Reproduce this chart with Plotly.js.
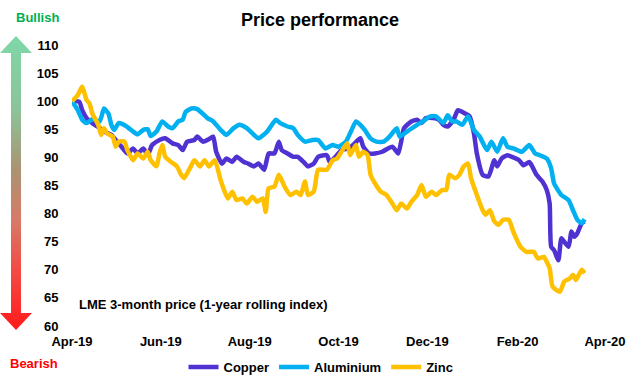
<!DOCTYPE html>
<html>
<head>
<meta charset="utf-8">
<script src="https://cdn.plot.ly/plotly-3.0.1.min.js"></script>
<style>html,body{margin:0;padding:0;background:#fff;}#chart{width:640px;height:386px;}</style>
</head>
<body>
<div id="chart"></div>
<script>
// ---- data (LME 3-month price, 1-year rolling index) ----
const seriesNames = ['Copper', 'Aluminium', 'Zinc'];

const copperDates = [
  '2019-04-01','2019-04-06','2019-04-08','2019-04-11','2019-04-15','2019-04-20','2019-04-23','2019-04-28',
  '2019-05-01','2019-05-05','2019-05-09','2019-05-13','2019-05-16','2019-05-20','2019-05-23','2019-05-26','2019-05-31',
  '2019-06-04','2019-06-09','2019-06-13','2019-06-16','2019-06-19','2019-06-24','2019-06-26','2019-06-30',
  '2019-07-05','2019-07-07','2019-07-09','2019-07-13','2019-07-16','2019-07-20','2019-07-23','2019-07-28','2019-07-31',
  '2019-08-04','2019-08-07','2019-08-11','2019-08-14','2019-08-18','2019-08-21','2019-08-23','2019-08-27','2019-08-31',
  '2019-09-03','2019-09-07','2019-09-10','2019-09-14','2019-09-17','2019-09-23','2019-09-25','2019-09-29',
  '2019-10-03','2019-10-08','2019-10-11','2019-10-16','2019-10-18','2019-10-22','2019-10-26','2019-10-31',
  '2019-11-04','2019-11-07','2019-11-11','2019-11-13','2019-11-15','2019-11-20','2019-11-24','2019-11-27','2019-11-30',
  '2019-12-05','2019-12-09','2019-12-12','2019-12-15','2019-12-19','2019-12-22','2019-12-27','2019-12-30',
  '2020-01-02','2020-01-04','2020-01-08','2020-01-12','2020-01-16','2020-01-18','2020-01-21','2020-01-25','2020-01-28',
  '2020-02-02','2020-02-05','2020-02-09','2020-02-11','2020-02-14','2020-02-18','2020-02-21','2020-02-23','2020-02-24','2020-02-26','2020-02-29',
  '2020-03-02','2020-03-04','2020-03-07','2020-03-09','2020-03-11','2020-03-13','2020-03-16','2020-03-18'
];
const copperValues = [
  100,99.9,98.4,97.0,96.1,95.2,94.6,94.0,
  93.1,91.9,90.7,91.6,90.7,91.6,90.4,92.2,93.1,
  93.4,92.5,92.2,91.3,92.8,93.1,93.7,92.8,
  93.4,93.7,91.0,88.9,89.8,89.2,90.1,89.2,88.9,
  88.4,88.9,87.8,90.7,90.7,92.8,91.3,90.7,90.1,
  90.1,89.2,88.4,88.9,90.1,90.4,89.2,90.1,
  91.3,91.6,92.2,93.4,91.9,90.7,90.7,91.0,
  91.6,91.9,90.7,92.8,95.2,96.4,96.7,96.1,97.0,
  97.0,96.7,95.8,95.5,96.7,98.4,97.8,97.3,
  94.3,90.7,86.9,86.6,89.5,88.4,89.8,90.4,90.1,
  89.5,88.6,89.2,88.4,86.9,85.7,84.2,81.8,74.1,73.5,71.7,
  75.6,75.0,74.1,76.8,75.9,76.5,78.3,78.6
];

const aluminiumDates = [
  '2019-04-01','2019-04-05','2019-04-08','2019-04-11','2019-04-15','2019-04-20','2019-04-23','2019-04-26','2019-04-28','2019-04-30',
  '2019-05-03','2019-05-08','2019-05-13','2019-05-16','2019-05-20','2019-05-23','2019-05-25','2019-05-29',
  '2019-06-02','2019-06-06','2019-06-09','2019-06-13','2019-06-16','2019-06-18','2019-06-22','2019-06-26',
  '2019-07-03','2019-07-07','2019-07-12','2019-07-16','2019-07-21','2019-07-25','2019-07-30',
  '2019-08-04','2019-08-07','2019-08-13','2019-08-19','2019-08-22','2019-08-27','2019-08-31',
  '2019-09-03','2019-09-08','2019-09-13','2019-09-17','2019-09-22','2019-09-27',
  '2019-10-01','2019-10-06','2019-10-09','2019-10-13','2019-10-16','2019-10-19','2019-10-23','2019-10-27',
  '2019-11-01','2019-11-05','2019-11-10','2019-11-12','2019-11-17','2019-11-24','2019-11-28',
  '2019-12-03','2019-12-07','2019-12-12','2019-12-15','2019-12-18','2019-12-21','2019-12-25','2019-12-29',
  '2020-01-02','2020-01-06','2020-01-11','2020-01-14','2020-01-18','2020-01-22','2020-01-25','2020-01-29',
  '2020-02-04','2020-02-09','2020-02-13','2020-02-16','2020-02-21','2020-02-24','2020-02-26',
  '2020-03-02','2020-03-07','2020-03-10','2020-03-13','2020-03-16','2020-03-18'
];
const aluminiumValues = [
  100,98.4,96.7,96.1,96.8,96.4,98.7,97.8,95.8,94.9,
  96.1,95.6,94.6,94.1,94.9,95.0,93.8,94.6,
  96.4,95.5,95.2,96.4,96.7,98.1,98.7,98.6,
  97.0,96.4,94.9,94.0,95.2,95.8,95.2,
  94.0,93.4,94.6,96.7,96.1,95.5,95.2,
  94.0,92.8,93.1,93.1,91.6,92.2,
  91.9,92.8,94.3,96.4,95.8,94.9,93.4,92.8,
  92.8,93.7,95.2,93.7,94.6,95.8,96.4,
  97.3,97.3,96.1,97.5,96.4,96.4,95.8,97.3,
  94.9,93.7,91.3,92.8,91.0,93.4,91.9,91.6,
  91.0,92.2,90.7,90.4,89.8,88.1,85.4,
  83.3,82.4,80.6,78.9,78.3,79.0
];

const zincDates = [
  '2019-04-01','2019-04-05','2019-04-08','2019-04-11','2019-04-13','2019-04-15','2019-04-19','2019-04-21','2019-04-23','2019-04-25','2019-04-29',
  '2019-05-01','2019-05-03','2019-05-07','2019-05-09','2019-05-13','2019-05-16','2019-05-20','2019-05-23','2019-05-25','2019-05-29','2019-05-31',
  '2019-06-02','2019-06-04','2019-06-08','2019-06-12','2019-06-15','2019-06-17','2019-06-21','2019-06-24','2019-06-28',
  '2019-07-01','2019-07-04','2019-07-08','2019-07-12','2019-07-14','2019-07-17','2019-07-20','2019-07-23','2019-07-27','2019-07-30',
  '2019-08-03','2019-08-06','2019-08-10','2019-08-12','2019-08-14','2019-08-18','2019-08-21','2019-08-25','2019-08-29',
  '2019-09-02','2019-09-05','2019-09-08','2019-09-10','2019-09-14','2019-09-17','2019-09-23','2019-09-27','2019-09-30',
  '2019-10-03','2019-10-07','2019-10-09','2019-10-13','2019-10-15','2019-10-18','2019-10-21','2019-10-23','2019-10-26','2019-10-30',
  '2019-11-03','2019-11-07','2019-11-10','2019-11-13','2019-11-17','2019-11-20','2019-11-24','2019-11-27','2019-11-30',
  '2019-12-04','2019-12-07','2019-12-11','2019-12-14','2019-12-16','2019-12-20','2019-12-23','2019-12-26','2019-12-29','2019-12-31',
  '2020-01-04','2020-01-08','2020-01-10','2020-01-13','2020-01-16','2020-01-19','2020-01-22','2020-01-26','2020-01-29',
  '2020-02-03','2020-02-07','2020-02-12','2020-02-15','2020-02-19','2020-02-21','2020-02-23','2020-02-25',
  '2020-03-01','2020-03-04','2020-03-08','2020-03-10','2020-03-12','2020-03-16','2020-03-18'
];
const zincValues = [
  100,101.1,102.6,100.2,99.6,97.8,95.8,94.0,95.2,94.3,93.7,
  91.9,92.8,92.8,91.3,89.5,90.7,89.8,91.0,89.5,88.4,90.7,
  92.2,90.1,89.2,88.4,86.9,86.3,88.1,89.5,88.4,
  89.5,88.4,89.5,86.0,84.5,82.7,83.9,82.4,82.7,81.8,
  83.0,82.1,82.7,80.3,84.5,84.8,86.9,84.8,83.3,
  83.9,83.3,85.7,83.3,83.9,87.8,87.8,89.5,89.8,
  91.0,92.5,90.4,92.2,90.1,91.0,90.4,86.9,85.4,83.9,
  83.3,81.8,80.6,81.8,80.9,82.1,83.3,85.1,83.0,
  83.9,83.3,84.2,84.2,86.9,86.3,86.9,88.4,88.9,86.3,
  83.3,80.6,79.8,80.6,78.6,78.0,78.9,78.9,76.8,
  74.1,73.2,73.2,72.0,72.3,71.4,70.3,67.0,
  66.1,67.9,68.5,69.1,68.2,70.0,69.4
];

const yTickValues = [60, 65, 70, 75, 80, 85, 90, 95, 100, 105, 110];
const xTickValues = ['2019-04-01','2019-06-01','2019-08-01','2019-10-01','2019-12-01','2020-02-01','2020-04-01'];
const xTickLabels = ['Apr-19','Jun-19','Aug-19','Oct-19','Dec-19','Feb-20','Apr-20'];

// ---- styling ----
const FONT = 'Liberation Sans, Arial, sans-serif';
const colors = {Copper: '#5031d1', Aluminium: '#00b0f0', Zinc: '#ffc000'};

const arrowSvg =
  '<svg xmlns="http://www.w3.org/2000/svg" width="32" height="294" viewBox="0 0 32 294">' +
  '<defs><linearGradient id="g" x1="0" y1="0" x2="0" y2="1">' +
  '<stop offset="0" stop-color="#7ed8a8"/>' +
  '<stop offset="0.25" stop-color="#8cc39a"/>' +
  '<stop offset="0.45" stop-color="#a99472"/>' +
  '<stop offset="0.62" stop-color="#d57c68"/>' +
  '<stop offset="0.8" stop-color="#f34a44"/>' +
  '<stop offset="1" stop-color="#ff1a1a"/>' +
  '</linearGradient></defs>' +
  '<polygon fill="url(#g)" points="16,0 32,17 21,17 21,277 32,277 16,294 0,277 11,277 11,17 0,17"/>' +
  '</svg>';
const arrowUri = 'data:image/svg+xml;charset=utf-8,' + encodeURIComponent(arrowSvg);

const makeTrace = (name, x, y) => ({
  type: 'scatter', mode: 'lines', name: name, x: x, y: y,
  line: {color: colors[name], width: 4.5, shape: 'spline', smoothing: 0.5},
  hoverinfo: 'skip'
});

const traces = [
  makeTrace(seriesNames[0], copperDates, copperValues),
  makeTrace(seriesNames[1], aluminiumDates, aluminiumValues),
  makeTrace(seriesNames[2], zincDates, zincValues)
];

// plot area in pixels: left 72, right 605, top 45, bottom 326
const PW = 533, PH = 281;
const px = (x) => (x - 72) / PW;
const py = (y) => (326 - y) / PH;

const layout = {
  width: 640, height: 386,
  margin: {l: 72, r: 35, t: 45, b: 60, pad: 0},
  paper_bgcolor: '#ffffff', plot_bgcolor: '#ffffff',
  font: {family: FONT, size: 13, color: '#000000', weight: 'bold'},
  title: {
    text: 'Price performance',
    font: {family: FONT, size: 18, color: '#000000', weight: 'bold'},
    xref: 'container', x: 0.5, xanchor: 'center',
    yref: 'container', y: 1 - 20 / 386, yanchor: 'middle'
  },
  xaxis: {
    type: 'date',
    range: ['2019-04-01', '2020-04-01'],
    tickmode: 'array', tickvals: xTickValues, ticktext: xTickLabels,
    showgrid: false, zeroline: false, showline: false,
    ticks: 'outside', ticklen: 3, tickcolor: 'rgba(0,0,0,0)',
    tickfont: {family: FONT, size: 13, color: '#000000', weight: 'bold'}
  },
  yaxis: {
    range: [60, 110],
    tickmode: 'array', tickvals: yTickValues,
    showgrid: false, zeroline: false, showline: false,
    ticks: 'outside', ticklen: 10, tickcolor: 'rgba(0,0,0,0)',
    tickfont: {family: FONT, size: 13, color: '#000000', weight: 'bold'}
  },
  showlegend: true,
  legend: {
    orientation: 'h',
    xref: 'container', x: 321 / 640, xanchor: 'center',
    yref: 'container', y: 1 - 367 / 386, yanchor: 'middle',
    font: {family: FONT, size: 13, color: '#000000', weight: 'bold'},
    itemwidth: 30, tracegroupgap: 0,
    bgcolor: 'rgba(0,0,0,0)'
  },
  images: [{
    source: arrowUri,
    xref: 'paper', yref: 'paper',
    x: px(0), y: py(36), sizex: 32 / PW, sizey: 294 / PH,
    xanchor: 'left', yanchor: 'top', sizing: 'stretch', layer: 'above'
  }],
  annotations: [
    {text: 'Bullish', xref: 'paper', yref: 'paper', x: px(37), y: py(18),
     xanchor: 'center', yanchor: 'middle', showarrow: false,
     font: {family: FONT, size: 13, color: '#00b050', weight: 'bold'}},
    {text: 'Bearish', xref: 'paper', yref: 'paper', x: px(34), y: py(363),
     xanchor: 'center', yanchor: 'middle', showarrow: false,
     font: {family: FONT, size: 13, color: '#ff0000', weight: 'bold'}},
    {text: 'LME 3-month price (1-year rolling index)', xref: 'paper', yref: 'paper',
     x: px(77), y: py(304), xanchor: 'left', yanchor: 'middle', showarrow: false,
     font: {family: FONT, size: 13, color: '#000000', weight: 'bold'}}
  ]
};

Plotly.newPlot('chart', traces, layout, {displayModeBar: false, staticPlot: true});
</script>
</body>
</html>
